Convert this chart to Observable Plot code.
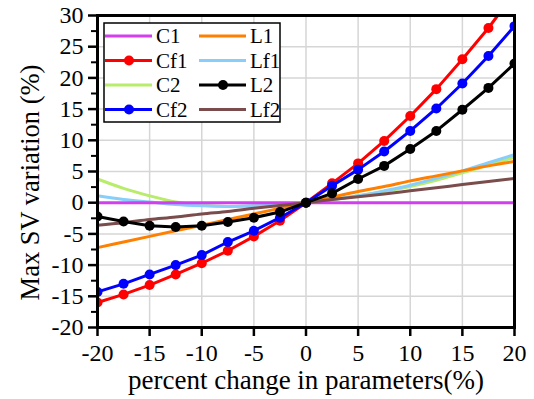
<!DOCTYPE html>
<html>
<head>
<meta charset="utf-8">
<script src="https://cdn.jsdelivr.net/npm/d3@7"></script>
<script src="https://cdn.jsdelivr.net/npm/@observablehq/plot@0.6"></script>
<style>
  html, body { margin: 0; padding: 0; background: white; }
  #wrap { position: relative; width: 534px; height: 399px; }
  #wrap svg, #wrap svg g, #wrap svg text { font-family: "Liberation Serif", "Times New Roman", serif !important; font-variant: normal !important; font-variant-numeric: normal !important; }
  #legend { position: absolute; left: 103px; top: 22px; }
</style>
</head>
<body>
<div id="wrap"></div>
<script>
const xs = [-20,-17.5,-15,-12.5,-10,-7.5,-5,-2.5,0,2.5,5,7.5,10,12.5,15,17.5,20];
const C1  = [0,0,0,0,0,0,0,0,0,0,0,0,0,0,0,0,0];
const Cf1 = [-16.0,-14.7,-13.2,-11.5,-9.7,-7.7,-5.4,-2.9,0,3.1,6.3,9.9,13.9,18.2,23.0,28.0,33.6];
const C2  = [3.8,2.3,1.1,0.1,-0.4,-0.6,-0.5,-0.3,0,0.5,1.1,1.8,2.6,3.6,4.8,6.0,7.3];
const Cf2 = [-14.3,-13.0,-11.5,-10.0,-8.4,-6.3,-4.5,-2.4,0,2.7,5.3,8.2,11.5,15.1,19.1,23.5,28.3];
const L1  = [-7.2,-6.3,-5.4,-4.5,-3.6,-2.7,-1.8,-0.9,0,0.9,1.8,2.6,3.5,4.3,5.1,5.9,6.6];
const Lf1 = [1.1,0.5,0.1,-0.3,-0.5,-0.6,-0.5,-0.3,0,0.5,1.1,1.9,2.8,3.9,5.1,6.4,7.7];
const L2  = [-2.2,-3.0,-3.7,-3.9,-3.7,-3.1,-2.4,-1.5,0,1.5,3.8,5.9,8.6,11.5,14.9,18.4,22.3];
const Lf2 = [-3.6,-3.2,-2.7,-2.3,-1.8,-1.4,-0.9,-0.45,0,0.5,0.95,1.4,1.9,2.4,2.9,3.4,3.9];

const seriesNames = ["C1","Cf1","C2","Cf2","L1","Lf1","L2","Lf2"];
const seriesValues = {C1, Cf1, C2, Cf2, L1, Lf1, L2, Lf2};
const seriesColors = {C1:"#d23ff0", Cf1:"#ff0000", C2:"#b8ec6a", Cf2:"#0000ff", L1:"#ff8000", Lf1:"#87cefa", L2:"#000000", Lf2:"#7a4c4c"};
const withMarkers = ["Cf1","Cf2","L2"];
const drawOrder = ["C2","Lf1","C1","L1","Lf2","Cf1","Cf2","L2"];

const xTicks = [-20,-15,-10,-5,0,5,10,15,20];
const yTicks = [-20,-15,-10,-5,0,5,10,15,20,25,30];
const yMinorTicks = [-17.5,-12.5,-7.5,-2.5,2.5,7.5,12.5,17.5,22.5,27.5];
const xLabel = "percent change in parameters(%)";
const yLabel = "Max SV variation (%)";

const font = "Liberation Serif";

const marks = [
  Plot.ruleX(xTicks, {stroke: "#d6d6d6", strokeWidth: 1.5}),
  Plot.ruleY(yTicks, {stroke: "#d6d6d6", strokeWidth: 1.5})
];
for (const name of drawOrder) {
  const data = xs.map((x, i) => ({x, y: seriesValues[name][i]}));
  const marker = withMarkers.includes(name);
  marks.push(Plot.line(data, {x: "x", y: "y", stroke: seriesColors[name], strokeWidth: 3,
    curve: marker ? "linear" : "catmull-rom", clip: true}));
  if (marker) marks.push(Plot.dot(data, {x: "x", y: "y", r: 5, fill: seriesColors[name], stroke: "none", clip: true}));
}
marks.push(
  Plot.frame({stroke: "black", strokeWidth: 3}),
  Plot.axisX({ticks: xTicks, tickSize: 9, tickPadding: 7, strokeWidth: 2.5, fontSize: 24, fontFamily: font, label: null, tickFormat: d => String(d)}),
  Plot.axisY({ticks: yTicks, tickSize: 9, tickPadding: 5, strokeWidth: 2.5, fontSize: 24, fontFamily: font, label: null, tickFormat: d => String(d)}),
  Plot.axisY({ticks: yMinorTicks, tickSize: 6, strokeWidth: 2, text: null, label: null}),
  Plot.text([xLabel], {frameAnchor: "bottom", dy: 61, fontSize: 27, fontFamily: font, fill: "black"}),
  Plot.text([yLabel], {frameAnchor: "left", textAnchor: "middle", dx: -67, dy: 11, rotate: -90, fontSize: 26.5, fontFamily: font, fill: "black"})
);

const chart = Plot.plot({
  width: 534, height: 399,
  marginLeft: 97, marginRight: 20, marginTop: 15, marginBottom: 72,
  style: {fontFamily: font, fontSize: "22px", color: "black", background: "white"},
  x: {domain: [-20, 20]},
  y: {domain: [-20, 30]},
  marks
});
const wrap = document.getElementById("wrap");
wrap.appendChild(chart);

// Legend (inside plot area, top-left)
const lw = 178, lh = 101;
const leg = d3.create("svg").attr("id", "legend").attr("width", lw).attr("height", lh)
  .style("font-family", font).style("font-size", "21px");
leg.append("rect").attr("x", 1).attr("y", 1).attr("width", lw - 2).attr("height", lh - 2)
  .attr("fill", "white").attr("stroke", "black").attr("stroke-width", 1.5);
const legendCols = [["C1","Cf1","C2","Cf2"],["L1","Lf1","L2","Lf2"]];
legendCols.forEach((col, ci) => {
  const x0 = ci === 0 ? 2 : 96;
  col.forEach((name, ri) => {
    const cy = 14 + ri * 24.5;
    const g = leg.append("g");
    g.append("line").attr("x1", x0).attr("x2", x0 + 47).attr("y1", cy).attr("y2", cy)
      .attr("stroke", seriesColors[name]).attr("stroke-width", 3);
    if (withMarkers.includes(name)) g.append("circle").attr("cx", x0 + 24).attr("cy", cy).attr("r", 5).attr("fill", seriesColors[name]);
    g.append("text").attr("x", x0 + 51).attr("y", cy).attr("dy", "0.35em").text(name);
  });
});
wrap.appendChild(leg.node());
</script>
</body>
</html>
